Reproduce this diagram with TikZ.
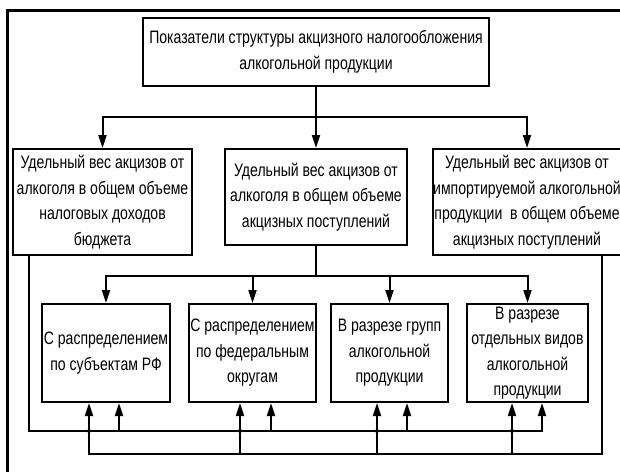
\documentclass[tikz,border=0pt]{standalone}
\usepackage{fontspec}
\setmainfont{Liberation Sans}[FakeStretch=0.78]
\usetikzlibrary{arrows.meta,calc}
\begin{document}
\begin{tikzpicture}[x=1pt,y=-1pt,
  box/.style={draw,line width=2pt,inner sep=0pt,align=center,
    font=\fontsize{18}{25.5}\selectfont},
  conn/.style={line width=2pt},
  arr/.style={line width=2pt,-{Triangle[length=13pt,width=8pt]}},
  frame/.style={line width=3.2pt}]
\useasboundingbox (0,0) rectangle (620,472);
\fill[white] (0,0) rectangle (620,472);
\coordinate (fa) at (7.5,472);
\coordinate (fb) at (7.5,10.5);
\coordinate (fc) at (620,10.5);
\draw[frame] (fa) -- (fb) -- (fc);

\node[box,minimum width=346pt,minimum height=68pt] (top) at (316,52)
  {Показатели структуры акцизного налогообложения\\алкогольной продукции};
\node[box,minimum width=179pt,minimum height=106pt] (L) at (102.5,202)
  {Удельный вес акцизов от\\алкоголя в общем объеме\\налоговых доходов\\бюджета};
\node[box,minimum width=182pt,minimum height=96pt] (M) at (316,197)
  {Удельный вес акцизов от\\алкоголя в общем объеме\\акцизных поступлений};
\node[box,minimum width=180pt,minimum height=106pt] (R) at (527,202)
  {Удельный вес акцизов от\\импортируемой алкогольной\\продукции\ \ в общем объеме\\акцизных поступлений};

\node[box,minimum width=128pt,minimum height=98pt] (B1) at (106,353)
  {С распределением\\по субъектам РФ};
\node[box,minimum width=127pt,minimum height=98pt] (B2) at (252.5,353)
  {С распределением\\по федеральным\\округам};
\node[box,minimum width=117pt,minimum height=98pt] (B3) at (389.5,353)
  {В разрезе групп\\алкогольной\\продукции};
\node[box,minimum width=121pt,minimum height=98pt] (B4) at (527.5,353)
  {В разрезе\\отдельных видов\\алкогольной\\продукции};

% top level
\draw[arr] (top.south) -- (M.north);
\draw[arr] (top.south) ++(0,30) -| (L.north);
\draw[arr] (top.south) ++(0,30) -| (R.north);

% middle to bottom
\draw[conn] (M.south) -- ++(0,30);
\draw[arr] (M.south) ++(0,30) -| (B1.north);
\draw[arr] (M.south) ++(0,30) -| (B2.north);
\draw[arr] (M.south) ++(0,30) -| (B3.north);
\draw[arr] (M.south) ++(0,30) -| (B4.north);

% bus coordinates
\coordinate (u1) at (0,431);
\coordinate (u2) at (0,454);
\coordinate (xl) at (29,0);
\coordinate (xr) at (602,0);
\coordinate (a1) at (89,0);  \coordinate (c1) at (119,0);
\coordinate (a2) at (240,0); \coordinate (c2) at (271,0);
\coordinate (a3) at (377,0); \coordinate (c3) at (407,0);
\coordinate (a4) at (512,0); \coordinate (c4) at (542,0);

% bus 1 from left box
\draw[arr] (xl |- L.south) -- (xl |- u1) -- (c4 |- u1) -- (c4 |- B4.south);
\draw[arr] (c1 |- u1) -- (c1 |- B1.south);
\draw[arr] (c2 |- u1) -- (c2 |- B2.south);
\draw[arr] (c3 |- u1) -- (c3 |- B3.south);

% bus 2 from right box
\draw[arr] (xr |- R.south) -- (xr |- u2) -- (a1 |- u2) -- (a1 |- B1.south);
\draw[arr] (a2 |- u2) -- (a2 |- B2.south);
\draw[arr] (a3 |- u2) -- (a3 |- B3.south);
\draw[arr] (a4 |- u2) -- (a4 |- B4.south);

\foreach \p in {a1,a2,a3,a4} \fill (\p |- u1) circle (2pt);
\end{tikzpicture}
\end{document}
